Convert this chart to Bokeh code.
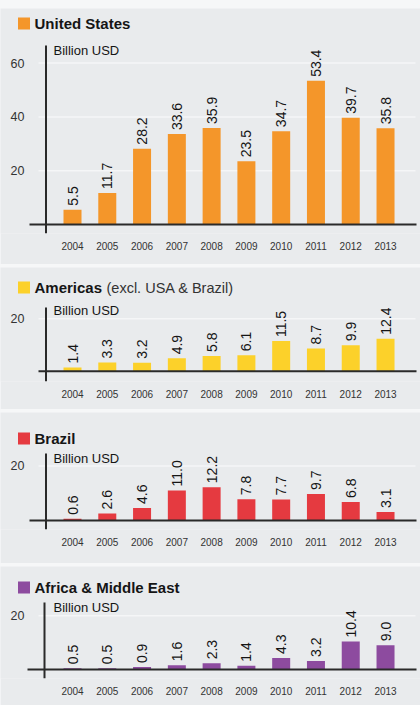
import math
from bokeh.plotting import figure
from bokeh.layouts import column
from bokeh.models import Range1d, FixedTicker, Label, Spacer
from bokeh.embed import file_html
from bokeh.resources import INLINE
from bokeh.core.properties import value

# ---------------- data ----------------
years = [2004, 2005, 2006, 2007, 2008, 2009, 2010, 2011, 2012, 2013]
us = [5.5, 11.7, 28.2, 33.6, 35.9, 23.5, 34.7, 53.4, 39.7, 35.8]
americas = [1.4, 3.3, 3.2, 4.9, 5.8, 6.1, 11.5, 8.7, 9.9, 12.4]
brazil = [0.6, 2.6, 4.6, 11.0, 12.2, 7.8, 7.7, 9.7, 6.8, 3.1]
africa_me = [0.5, 0.5, 0.9, 1.6, 2.3, 1.4, 4.3, 3.2, 10.4, 9.0]
us_ticks = [20, 40, 60]
small_ticks = [20]
unit_label = "Billion USD"

# ---------------- style ----------------
FONT = "Liberation Sans"
BG = "#e9ebed"
GRID = "#f5f6f7"
INK = "#151515"
W = 420
ORANGE = "#f4962a"
YELLOW = "#fcd12a"
RED = "#e53a40"
PURPLE = "#8d4b9f"

# horizontal pixel mapping (page px)
LEFT_PX, RIGHT_PX = 0, 420
C0_PX, STEP_PX = 72.0, 34.78


def px2x(px):
    return years[0] + (px - C0_PX) / STEP_PX


def make_panel(bold, rest, vals, color, ticks, H, title_y, unit_y, vtop, base, fb, ppu,
               base_left=29, axis_x=45.5, rest_dx=70):
    def py2y(rel):
        return (base - rel) / ppu

    p = figure(width=W, height=H, output_backend="svg", toolbar_location=None,
               x_range=Range1d(px2x(LEFT_PX), px2x(RIGHT_PX)),
               y_range=Range1d(py2y(fb), py2y(0)),
               min_border_left=0, min_border_right=0, min_border_top=0,
               min_border_bottom=H - fb,
               background_fill_color=BG, border_fill_color=BG,
               outline_line_color=None)
    p.xgrid.visible = False
    p.ygrid.visible = False

    # x axis (years)
    xa = p.xaxis[0]
    xa.ticker = FixedTicker(ticks=years)
    xa.axis_line_color = None
    xa.major_tick_line_color = None
    xa.minor_tick_line_color = None
    xa.major_label_standoff = 2
    xa.major_label_text_font = FONT
    xa.major_label_text_font_size = "10px"
    xa.major_label_text_color = "#333333"

    # y axis (ticks)
    ya = p.yaxis[0]
    ya.fixed_location = px2x(31)
    ya.ticker = FixedTicker(ticks=ticks)
    ya.axis_line_color = None
    ya.major_tick_line_color = None
    ya.minor_tick_line_color = None
    ya.major_label_standoff = 1
    ya.major_label_text_font = FONT
    ya.major_label_text_font_size = "12.5px"
    ya.major_label_text_color = "#333333"

    # grid lines
    p.segment(x0=[px2x(38)] * len(ticks), x1=[px2x(415)] * len(ticks),
              y0=ticks, y1=ticks, line_color=GRID, line_width=1.5)

    # bars
    p.vbar(x=years, top=vals, width=18 / STEP_PX, fill_color=color, line_color=None)

    # value labels
    p.text(x=years, y=vals, text=[f"{v:.1f}" for v in vals], angle=math.pi / 2,
           text_align="left", text_baseline="middle", y_offset=-4,
           text_font=value(FONT), text_font_size=value("14px"), text_color=INK)

    # baseline and vertical axis line
    p.segment(x0=[px2x(base_left)], x1=[px2x(416)], y0=[0], y1=[0],
              line_color="#2a2a2a", line_width=2)
    p.segment(x0=[px2x(axis_x)], x1=[px2x(axis_x)], y0=[py2y(vtop)], y1=[py2y(fb)],
              line_color="#2a2a2a", line_width=2)

    # title with colour key
    p.rect(x=[px2x(23.5)], y=[py2y(title_y)], width=12, height=12,
           width_units="screen", height_units="screen", fill_color=color, line_color=None)
    p.add_layout(Label(x=px2x(34), y=py2y(title_y), text=bold, text_font=FONT,
                       text_font_style="bold", text_font_size="15px", text_color=INK,
                       text_align="left", text_baseline="middle"))
    if rest:
        p.add_layout(Label(x=px2x(34 + rest_dx), y=py2y(title_y), text=rest, text_font=FONT,
                           text_font_size="14.5px", text_color="#333333",
                           text_align="left", text_baseline="middle"))
    # unit label
    p.add_layout(Label(x=px2x(53), y=py2y(unit_y), text=unit_label, text_font=FONT,
                       text_font_size="13px", text_color=INK,
                       text_align="left", text_baseline="middle"))
    return p


p1 = make_panel("United States", "", us, ORANGE, us_ticks,
                H=256, title_y=15, unit_y=42, vtop=37, base=216, fb=225, ppu=2.69)
p2 = make_panel("Americas", "(excl. USA & Brazil)", americas, YELLOW, small_ticks,
                H=142, title_y=20, unit_y=43, vtop=40, base=103.7, fb=114, ppu=2.62,
                base_left=38, rest_dx=72)
p3 = make_panel("Brazil", "", brazil, RED, small_ticks,
                H=151, title_y=26, unit_y=46, vtop=41, base=108, fb=117, ppu=2.73)
p4 = make_panel("Africa & Middle East", "", africa_me, PURPLE, small_ticks,
                H=139, title_y=21, unit_y=41, vtop=36, base=103, fb=112, ppu=2.69,
                base_left=27, axis_x=44)

top_pad = Spacer(width=W, height=5)
layout = column(top_pad, p1, p2, p3, p4, spacing=3,
                styles={"background-color": "#f6f7f8"})

open("out.html", "w").write(file_html(layout, INLINE))
